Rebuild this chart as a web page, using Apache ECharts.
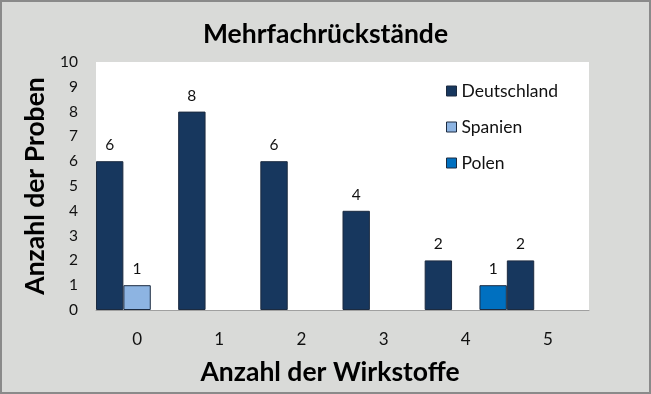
<!DOCTYPE html>
<html><head><meta charset="utf-8">
<script src="https://cdn.jsdelivr.net/npm/echarts@6/dist/echarts.min.js"></script>
<style>html,body{margin:0;padding:0;background:#d9dad8;}#c{width:651px;height:394px;}</style>
</head><body><div id="c"></div>
<script>
const categories = ['0','1','2','3','4','5'];
const deutschland = [6, 8, 6, 4, 2, 2];
const spanien = [1, null, null, null, null, null];
const polen = [null, null, null, null, 1, null];
const seriesNames = ['Deutschland','Spanien','Polen'];
const colors = ['#17375e','#8db4e2','#0070c0'];
const FONT = 'Lato';

const chart = echarts.init(document.getElementById('c'), null, {renderer:'canvas'});
function mk(name, data, color){
  return {name, type:'bar', data, barGap:'0%', barCategoryGap:'0%',
    itemStyle:{color, borderColor:'#1c2b40', borderWidth:1},
    label:{show:true, position:'top', distance:8, color:'#111', fontFamily:FONT, fontSize:15.5},
    emphasis:{disabled:true}, animation:false};
}
chart.setOption({
  backgroundColor:'#d9dad8',
  animation:false,
  title:{text:'Mehrfachrückstände', left:'center', top:16,
    textStyle:{fontFamily:FONT, fontWeight:'bold', fontSize:26.5, color:'#000'}},
  graphic:[{type:'rect', shape:{x:1, y:1, width:649, height:392}, style:{fill:null, stroke:'#8a8a8a', lineWidth:2}, silent:true}],
  legend:{orient:'vertical', left:441, top:77, itemGap:18, itemWidth:10, itemHeight:10, icon:'rect',
    textStyle:{fontFamily:FONT, fontSize:17.5, color:'#111'},
    data:seriesNames.map((n,i)=>({name:n, itemStyle:{color:colors[i], borderColor:'#1c2b40', borderWidth:1}}))},
  grid:{left:96, right:62, top:62, bottom:84, show:true, backgroundColor:'#ffffff', borderWidth:0, containLabel:false},
  xAxis:{type:'category', data:categories, name:'Anzahl der Wirkstoffe', nameLocation:'middle', nameGap:49,
    nameTextStyle:{fontFamily:FONT, fontWeight:'bold', fontSize:26.5, color:'#000', padding:[0,25,0,0]},
    axisLine:{lineStyle:{color:'#a0a0a0', width:1}}, axisTick:{length:7, lineStyle:{color:'#a0a0a0'}},
    axisLabel:{fontFamily:FONT, fontSize:17, color:'#111', margin:21}},
  yAxis:{type:'value', min:0, max:10, interval:1, name:'Anzahl der Proben', nameLocation:'middle', nameGap:47,
    nameTextStyle:{fontFamily:FONT, fontWeight:'bold', fontSize:26.5, color:'#000'},
    axisLine:{show:false}, axisTick:{show:false}, splitLine:{show:false},
    axisLabel:{fontFamily:FONT, fontSize:15.5, color:'#111', margin:18}},
  series:[mk(seriesNames[0], deutschland, colors[0]), mk(seriesNames[1], spanien, colors[1]), mk(seriesNames[2], polen, colors[2])]
});
</script></body></html>
